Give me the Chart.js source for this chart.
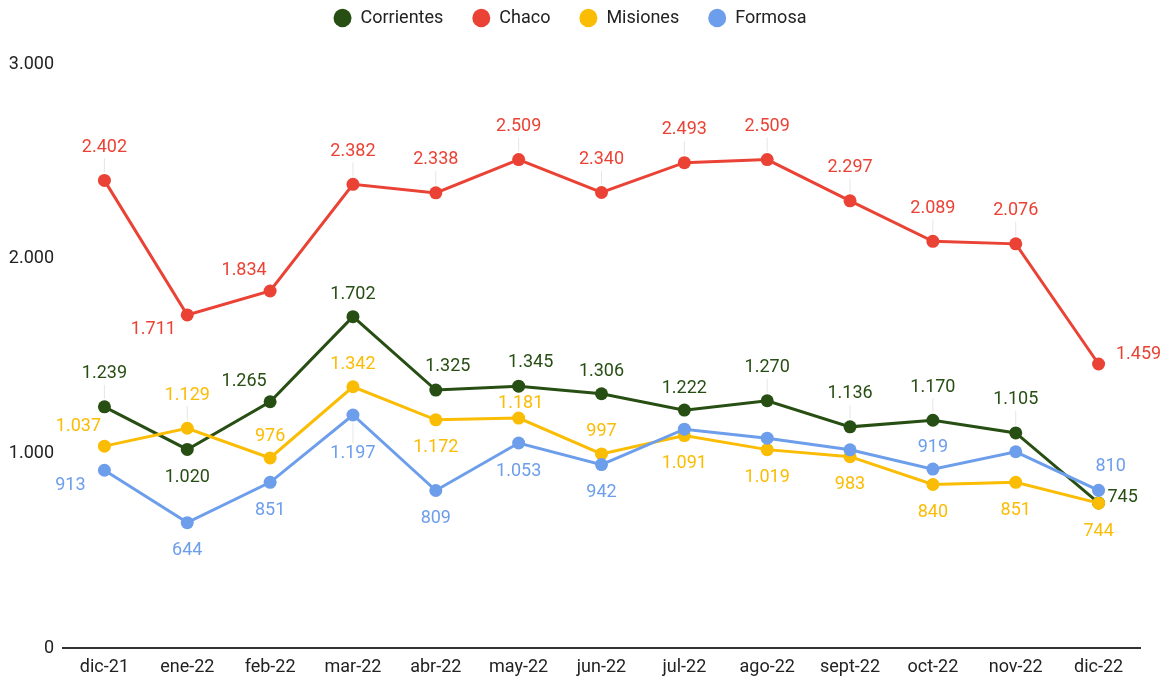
<!DOCTYPE html>
<html>
<head>
<meta charset="utf-8">
<script src="https://cdn.jsdelivr.net/npm/chart.js@4"></script>
<style>
  html, body { margin: 0; padding: 0; background: #fff; }
  #wrap { width: 1170px; height: 682px; }
</style>
</head>
<body>
<div id="wrap"><canvas id="grafico"></canvas></div>
<script>
const meses = ["dic-21", "ene-22", "feb-22", "mar-22", "abr-22", "may-22", "jun-22", "jul-22", "ago-22", "sept-22", "oct-22", "nov-22", "dic-22"];

const corrientes = [1239, 1020, 1265, 1702, 1325, 1345, 1306, 1222, 1270, 1136, 1170, 1105, 745];
const chaco = [2402, 1711, 1834, 2382, 2338, 2509, 2340, 2493, 2509, 2297, 2089, 2076, 1459];
const misiones = [1037, 1129, 976, 1342, 1172, 1181, 997, 1091, 1019, 983, 840, 851, 744];
const formosa = [913, 644, 851, 1197, 809, 1053, 942, 1124, 1078, 1018, 919, 1008, 810];

const ticksY = [0, 1000, 2000, 3000];

// donde va cada etiqueta (T/B = con linea guia, n = sin etiqueta)
const posCorrientes = ["T", "b", "tl", "t", "tr", "tr", "t", "t", "T", "T", "T", "T", "r"];
const posChaco = ["T", "bl", "tl", "T", "T", "T", "T", "T", "T", "T", "T", "T", "R"];
const posMisiones = ["tl", "T", "t", "t", "b", "tc", "t", "b", "b", "b", "b", "b", "b"];
const posFormosa = ["bl", "b", "b", "B", "b", "b", "b", "n", "n", "n", "t", "n", "tr"];

const desplaz = {
    T: [0, -33, true],
    t: [0, -22, false],
    tc: [2, -15, false],
    tr: [12, -24, false],
    B: [0, 39, true],
    b: [0, 28, false],
    tl: [-26, -20, false],
    bl: [-34, 15, false],
    r: [24, -5, false],
    R: [40, -9, false]
};

const miles = v => String(v).replace(/\B(?=(\d{3})+(?!\d))/g, ".");

const etiquetas = {
    id: "etiquetas",
    afterDatasetsDraw(chart) {
        const ctx = chart.ctx;
        ctx.save();
        ctx.font = "18px Roboto";
        ctx.textAlign = "center";
        ctx.textBaseline = "middle";
        chart.data.datasets.forEach((ds, i) => {
            const meta = chart.getDatasetMeta(i);
            meta.data.forEach((p, j) => {
                const d = desplaz[ds.posiciones[j]];
                if (!d) return;
                const x = p.x + d[0], y = p.y + d[1];
                if (d[2]) {
                    ctx.strokeStyle = "#e6e6e6";
                    ctx.lineWidth = 1;
                    ctx.beginPath();
                    if (d[1] < 0) {
                        ctx.moveTo(p.x, p.y - 8);
                        ctx.lineTo(p.x, y + 11);
                    } else {
                        ctx.moveTo(p.x, p.y + 8);
                        ctx.lineTo(p.x, y - 11);
                    }
                    ctx.stroke();
                }
                ctx.fillStyle = ds.borderColor;
                ctx.fillText(miles(ds.data[j]), x, y);
            });
        });
        ctx.restore();
    }
};

const altoLeyenda = {
    id: "altoLeyenda",
    afterInit(chart) {
        const fit = chart.legend.fit;
        chart.legend.fit = function () {
            fit.call(this);
            this.height = 84;
        };
    }
};

function serie(nombre, datos, color, pos, orden) {
    return {
        label: nombre,
        data: datos,
        borderColor: color,
        backgroundColor: color,
        borderWidth: 3,
        pointRadius: 6.5,
        pointHoverRadius: 6.5,
        pointBorderWidth: 0,
        tension: 0,
        order: orden,
        posiciones: pos
    };
}

new Chart(document.getElementById("grafico"), {
    type: "line",
    data: {
        labels: meses,
        datasets: [
            serie("Corrientes", corrientes, "#274e13", posCorrientes, 3),
            serie("Chaco", chaco, "#ea4335", posChaco, 2),
            serie("Misiones", misiones, "#fbbc04", posMisiones, 1),
            serie("Formosa", formosa, "#6d9eeb", posFormosa, 0)
        ]
    },
    options: {
        responsive: true,
        maintainAspectRatio: false,
        animation: false,
        layout: { padding: { top: -20, right: 30, left: 0, bottom: 0 } },
        plugins: {
            legend: {
                position: "top",
                labels: {
                    usePointStyle: true,
                    pointStyle: "circle",
                    boxHeight: 13,
                    pointStyleWidth: 18,
                    padding: 29,
                    color: "#222",
                    font: { family: "Roboto", size: 18 },
                    sort: (a, b) => a.datasetIndex - b.datasetIndex
                }
            },
            tooltip: { enabled: false }
        },
        scales: {
            x: {
                offset: true,
                grid: { display: false, drawTicks: false },
                border: { display: true, color: "#333", width: 2 },
                ticks: { color: "#222", font: { family: "Roboto", size: 18 }, padding: 9 },
                afterFit: s => { s.height = 34; }
            },
            y: {
                min: 0,
                max: 3000,
                afterBuildTicks: s => { s.ticks = ticksY.map(v => ({ value: v })); },
                grid: { display: false, drawTicks: false },
                border: { display: false },
                ticks: {
                    color: "#222",
                    font: { family: "Roboto", size: 18 },
                    padding: 9,
                    callback: v => miles(v)
                },
                afterFit: s => { s.width = 63; }
            }
        }
    },
    plugins: [etiquetas, altoLeyenda]
});
</script>
</body>
</html>
